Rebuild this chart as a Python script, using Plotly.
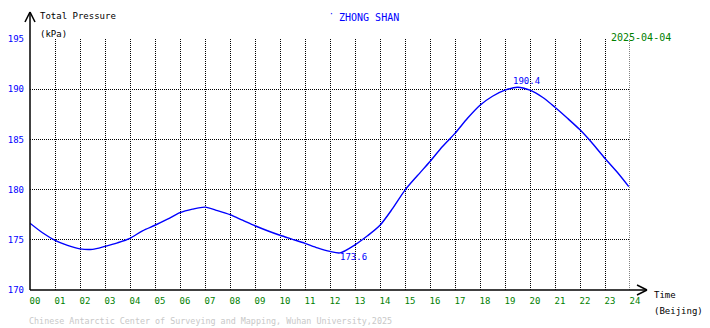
import plotly.graph_objects as go

# ---- data ----
hours = [0.0, 0.5, 1.0, 1.5, 2.0, 2.5, 3.0, 3.5, 4.0, 4.5, 5.0, 5.5, 6.0, 6.5, 7.0, 7.5,
         8.0, 8.5, 9.0, 9.5, 10.0, 10.5, 11.0, 11.5, 12.0, 12.4, 13.0, 13.5, 14.0, 14.5,
         15.0, 15.5, 16.0, 16.5, 17.0, 17.5, 18.0, 18.5, 19.0, 19.5, 20.0, 20.5, 21.0,
         21.5, 22.0, 22.5, 23.0, 23.5, 23.95]
pressure = [176.65, 175.7, 174.95, 174.45, 174.1, 174.05, 174.35, 174.7, 175.15, 175.9,
            176.45, 177.05, 177.7, 178.05, 178.25, 177.9, 177.5, 176.95, 176.4, 175.9,
            175.45, 175.05, 174.65, 174.2, 173.85, 173.7, 174.5, 175.4, 176.45, 178.1,
            179.95, 181.4, 182.8, 184.3, 185.6, 187.1, 188.4, 189.3, 189.9, 190.2,
            189.9, 189.2, 188.2, 187.1, 185.95, 184.6, 183.1, 181.7, 180.3]
x_ticks = list(range(0, 25))
x_tick_labels = [f"{h:02d}" for h in x_ticks]
y_ticks = [170, 175, 180, 185, 190, 195]
min_label = (12.4, 173.6)
max_label = (19.5, 190.4)
station = "ZHONG SHAN"
date_text = "2025-04-04"
footer = "Chinese Antarctic Center of Surveying and Mapping, Wuhan University,2025"

MONO = "DejaVu Sans Mono"
BLUE = "#0000FF"
GREEN = "#008000"

fig = go.Figure()
fig.add_trace(go.Scatter(x=hours, y=pressure, mode="lines",
                         line=dict(color=BLUE, width=1.4, shape="spline", smoothing=0.8),
                         hoverinfo="skip"))

fig.update_layout(
    width=710, height=328,
    margin=dict(l=30, r=80, t=39, b=38, autoexpand=False),
    paper_bgcolor="white", plot_bgcolor="white",
    showlegend=False,
    xaxis=dict(range=[0, 24], tickvals=x_ticks, ticktext=x_tick_labels,
               showgrid=True, gridcolor="black", gridwidth=1, griddash="1px,1px",
               zeroline=False, showline=False, ticks="",
               tickfont=dict(family=MONO, size=9, color=GREEN),
               ticklabelshift=5, ticklabelstandoff=4, fixedrange=True),
    yaxis=dict(range=[170, 195], tickvals=y_ticks,
               showgrid=True, gridcolor="black", gridwidth=1, griddash="1px,1px",
               zeroline=False, showline=False, ticks="",
               tickfont=dict(family=MONO, size=9, color=BLUE),
               ticklabelstandoff=5, fixedrange=True),
)

# right-edge vertical grid line (hour 24)
fig.add_shape(type="line", xref="x", yref="y", x0=24, x1=24, y0=170, y1=195,
              line=dict(color="black", width=1, dash="1px,1px"), layer="below")

def px2paper_x(px):
    return (px - 30) / 600.0

def px2paper_y(py):
    return (290 - py) / 251.0

axis_shapes = [
    ((30, 290), (30, 12)),
    ((30, 12), (25, 22)),
    ((30, 12), (35, 22)),
    ((30, 290), (647, 290)),
    ((637, 285), (647, 290)),
    ((637, 295), (647, 290)),
]
for (x0, y0), (x1, y1) in axis_shapes:
    fig.add_shape(type="line", xref="paper", yref="paper",
                  x0=px2paper_x(x0), y0=px2paper_y(y0),
                  x1=px2paper_x(x1), y1=px2paper_y(y1),
                  line=dict(color="black", width=1.5))

def txt(px, py, text, color="black", size=9, xanchor="left"):
    fig.add_annotation(xref="paper", yref="paper", x=px2paper_x(px), y=px2paper_y(py),
                       text=text, showarrow=False, xanchor=xanchor, yanchor="middle",
                       font=dict(family=MONO, size=size, color=color))

txt(38, 16, "Total Pressure", size=9)
txt(38, 34, "(kPa)", size=9)
txt(337, 17, station, color=BLUE, size=10)
txt(327, 14, "·", color=BLUE, size=8)
txt(609, 37, date_text, color=GREEN, size=10)
txt(652, 295, "Time", size=9)
txt(652, 311, "(Beijing)", size=9)
txt(27, 321, footer, color="#C8C8C8", size=8.4)

fig.add_annotation(x=max_label[0], y=max_label[1], text=f"{max_label[1]:.1f}",
                   showarrow=False, xanchor="center", yanchor="middle",
                   xshift=9, yshift=4,
                   font=dict(family=MONO, size=9, color=BLUE))
fig.add_annotation(x=min_label[0], y=min_label[1], text=f"{min_label[1]:.1f}",
                   showarrow=False, xanchor="center", yanchor="middle",
                   xshift=13, yshift=-3,
                   font=dict(family=MONO, size=9, color=BLUE))

fig.write_html("out.html", config={"displayModeBar": False})
